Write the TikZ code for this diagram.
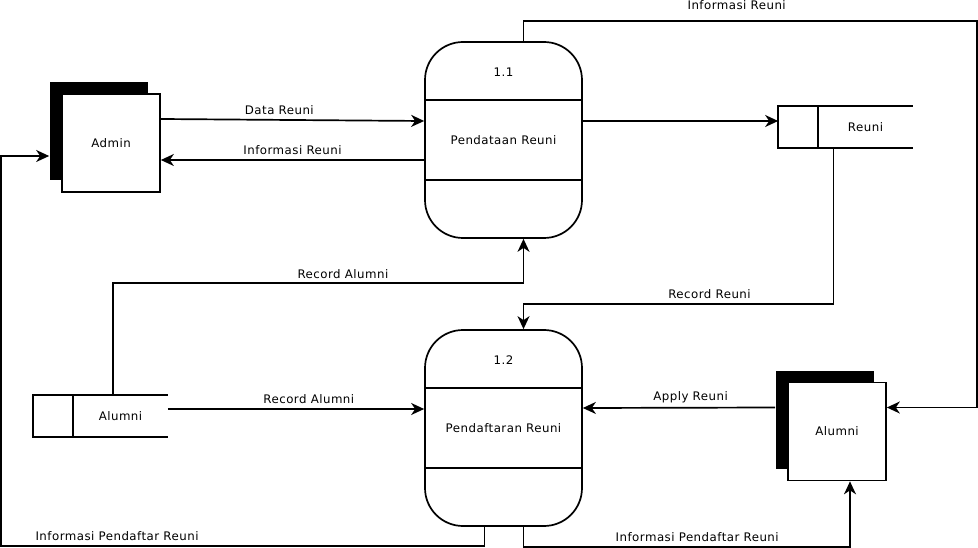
\documentclass[tikz,border=0pt]{standalone}
\usepackage{fontspec}
\setmainfont{DejaVu Sans}[LetterSpace=4]
\usetikzlibrary{calc, arrows.meta, shadows}

\begin{document}
\begin{tikzpicture}[x=1pt, y=-1pt, line width=1.7pt, font=\fontsize{11.8}{13}\selectfont,
    flow/.style={-{Stealth[length=13pt,width=12pt,inset=4pt]}},
    proc/.style={draw, rounded corners=38pt, minimum width=157pt, minimum height=196pt, inner sep=0pt},
    entity/.style={draw, fill=white, minimum width=98pt, minimum height=98pt, inner sep=0pt,
        general shadow={fill=black, shadow xshift=-12pt, shadow yshift=12pt}},
    store/.style={minimum width=133pt, minimum height=40pt, inner sep=0pt},
    lbl/.style={above=3pt, inner sep=1pt}]
      \useasboundingbox (0,0) rectangle (978,548);
      % processes
      \node[proc] (p11) at (503.5,140) {};
      \node[proc] (p12) at (503.5,428) {};
      \foreach \p/\n/\t in {p11/1.1/Pendataan Reuni, p12/1.2/Pendaftaran Reuni}
      {
          \draw ($(\p.north west)+(0,59)$) -- ($(\p.north east)+(0,59)$);
          \draw ($(\p.south west)+(0,-59)$) -- ($(\p.south east)+(0,-59)$);
          \node at ($(\p.north)+(0,31)$) {\n};
          \node at (\p.center) {\t};
      }
      % entities
      \node[entity] (admin) at (111,143) {Admin};
      \node[entity] (alumE) at (837,431.5) {Alumni};
      % data stores
      \node[store] (reuni) at (845.5,127) {};
      \node[store] (alumS) at (100.5,416) {};
      \foreach \s/\t in {reuni/Reuni, alumS/Alumni}
      {
          \draw (\s.north east) -- (\s.north west) -- (\s.south west) -- (\s.south east);
          \draw ($(\s.north west)+(40,0)$) -- ($(\s.south west)+(40,0)$);
          \node at ($(\s.center)+(20,0)$) {\t};
      }
      % free corners
      \coordinate (ne) at (977,21);
      \coordinate (sw) at (1,546);
      % flows
      \draw[flow] ($(admin.east)+(0,-24)$) -- node[lbl, pos=0.45] {Data Reuni} ($(p11.west)+(0,-19)$);
      \draw[flow] ($(p11.west)+(0,20)$) -- node[lbl, pos=0.5] {Informasi Reuni} ($(admin.east)+(0,17)$);
      \draw[flow] ($(p11.east)+(0,-19)$) -- ($(reuni.west)+(0,-6)$);
      \draw[flow] ($(p11.north)+(20,0)$) |- node[lbl, above=6pt, pos=0.735] {Informasi Reuni} (ne) |- ($(alumE.east)+(0,-24)$);
      \draw[flow] ($(reuni.south)+(-12,0)$) -- ++(0,156) -| node[lbl, pos=0.2] {Record Reuni} ($(p12.north)+(20,0)$);
      \draw[flow] ($(alumS.north west)+(80,0)$) -- ++(0,-112) -| node[lbl, pos=0.28] {Record Alumni} ($(p11.south)+(20,0)$);
      \draw[flow] ($(alumS.east)+(0,-7)$) -- node[lbl, pos=0.55] {Record Alumni} ($(p12.west)+(0,-19)$);
      \draw[flow] ($(alumE.west)+(-12,-24)$) -- node[lbl, pos=0.44] {Apply Reuni} ($(p12.east)+(0,-20)$);
      \draw[flow] ($(p12.south)+(-19,0)$) |- node[lbl, pos=0.88] {Informasi Pendaftar Reuni} (sw) |- ($(admin.west)+(-12,13)$);
      \draw[flow] ($(p12.south)+(20,0)$) -- ++(0,20) -| node[lbl, pos=0.266] {Informasi Pendaftar Reuni} ($(alumE.south)+(13,0)$);
\end{tikzpicture}
\end{document}
